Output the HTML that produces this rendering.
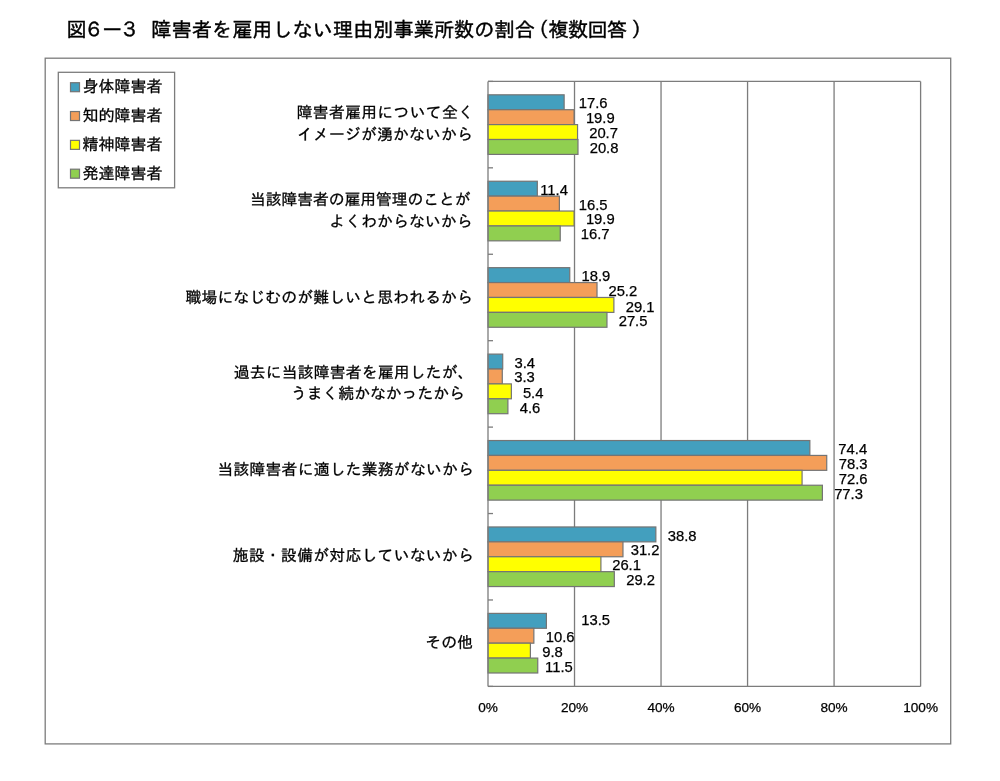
<!DOCTYPE html>
<html lang="ja"><head><meta charset="utf-8"><title>図6－3 障害者を雇用しない理由別事業所数の割合（複数回答）</title>
<style>html,body{margin:0;padding:0;background:#fff}svg{display:block}.jp{font-family:"Liberation Sans","IPAGothic","Noto Sans CJK JP",sans-serif;fill:#000;stroke:#000;stroke-width:0.3px}.num{font-family:"Liberation Sans",sans-serif;fill:#000;stroke:#000;stroke-width:0.25px;font-size:14.8px}</style></head><body>
<svg width="1000" height="781" viewBox="0 0 1000 781">
<rect width="1000" height="781" fill="#fff"/>
<text class="jp" style="stroke-width:0.42px" font-size="20.2"><tspan x="66.40" y="36.80">図</tspan><tspan x="83.80" y="37.30">６</tspan><tspan x="100.50" y="37.40" textLength="23.4" lengthAdjust="spacingAndGlyphs">－</tspan><tspan x="119.50" y="37.30">３</tspan><tspan x="151.30" y="36.90">障害者を雇用しない理由別事業所数の割合</tspan><tspan x="528.40" y="36.90">（</tspan><tspan x="548.40" y="36.90" textLength="78.8" lengthAdjust="spacing">複数回答</tspan><tspan x="631.40" y="36.90">）</tspan></text>
<rect x="45.2" y="58.2" width="905.5" height="685.7" fill="#fff" stroke="#7c7c7c" stroke-width="1.3"/>
<line x1="574.52" y1="81.40" x2="574.52" y2="686.40" stroke="#7c7c7c" stroke-width="1.3"/>
<line x1="661.04" y1="81.40" x2="661.04" y2="686.40" stroke="#7c7c7c" stroke-width="1.3"/>
<line x1="747.56" y1="81.40" x2="747.56" y2="686.40" stroke="#7c7c7c" stroke-width="1.3"/>
<line x1="834.08" y1="81.40" x2="834.08" y2="686.40" stroke="#7c7c7c" stroke-width="1.3"/>
<line x1="920.60" y1="81.40" x2="920.60" y2="686.40" stroke="#7c7c7c" stroke-width="1.3"/>
<line x1="488.00" y1="81.40" x2="920.60" y2="81.40" stroke="#7c7c7c" stroke-width="1.3"/>
<line x1="488.00" y1="686.40" x2="920.60" y2="686.40" stroke="#7c7c7c" stroke-width="1.3"/>
<rect x="488.00" y="94.81" width="76.14" height="14.90" fill="#439FBE" stroke="#747474" stroke-width="1.2"/>
<rect x="488.00" y="109.71" width="86.09" height="14.90" fill="#F49E59" stroke="#747474" stroke-width="1.2"/>
<rect x="488.00" y="124.61" width="89.55" height="14.90" fill="#FFFF00" stroke="#747474" stroke-width="1.2"/>
<rect x="488.00" y="139.51" width="89.98" height="14.90" fill="#90CF50" stroke="#747474" stroke-width="1.2"/>
<rect x="488.00" y="181.24" width="49.32" height="14.90" fill="#439FBE" stroke="#747474" stroke-width="1.2"/>
<rect x="488.00" y="196.14" width="71.38" height="14.90" fill="#F49E59" stroke="#747474" stroke-width="1.2"/>
<rect x="488.00" y="211.04" width="86.09" height="14.90" fill="#FFFF00" stroke="#747474" stroke-width="1.2"/>
<rect x="488.00" y="225.94" width="72.24" height="14.90" fill="#90CF50" stroke="#747474" stroke-width="1.2"/>
<rect x="488.00" y="267.67" width="81.76" height="14.90" fill="#439FBE" stroke="#747474" stroke-width="1.2"/>
<rect x="488.00" y="282.57" width="109.02" height="14.90" fill="#F49E59" stroke="#747474" stroke-width="1.2"/>
<rect x="488.00" y="297.47" width="125.89" height="14.90" fill="#FFFF00" stroke="#747474" stroke-width="1.2"/>
<rect x="488.00" y="312.37" width="118.97" height="14.90" fill="#90CF50" stroke="#747474" stroke-width="1.2"/>
<rect x="488.00" y="354.10" width="14.71" height="14.90" fill="#439FBE" stroke="#747474" stroke-width="1.2"/>
<rect x="488.00" y="369.00" width="14.28" height="14.90" fill="#F49E59" stroke="#747474" stroke-width="1.2"/>
<rect x="488.00" y="383.90" width="23.36" height="14.90" fill="#FFFF00" stroke="#747474" stroke-width="1.2"/>
<rect x="488.00" y="398.80" width="19.90" height="14.90" fill="#90CF50" stroke="#747474" stroke-width="1.2"/>
<rect x="488.00" y="440.53" width="321.85" height="14.90" fill="#439FBE" stroke="#747474" stroke-width="1.2"/>
<rect x="488.00" y="455.43" width="338.73" height="14.90" fill="#F49E59" stroke="#747474" stroke-width="1.2"/>
<rect x="488.00" y="470.33" width="314.07" height="14.90" fill="#FFFF00" stroke="#747474" stroke-width="1.2"/>
<rect x="488.00" y="485.23" width="334.40" height="14.90" fill="#90CF50" stroke="#747474" stroke-width="1.2"/>
<rect x="488.00" y="526.96" width="167.85" height="14.90" fill="#439FBE" stroke="#747474" stroke-width="1.2"/>
<rect x="488.00" y="541.86" width="134.97" height="14.90" fill="#F49E59" stroke="#747474" stroke-width="1.2"/>
<rect x="488.00" y="556.76" width="112.91" height="14.90" fill="#FFFF00" stroke="#747474" stroke-width="1.2"/>
<rect x="488.00" y="571.66" width="126.32" height="14.90" fill="#90CF50" stroke="#747474" stroke-width="1.2"/>
<rect x="488.00" y="613.39" width="58.40" height="14.90" fill="#439FBE" stroke="#747474" stroke-width="1.2"/>
<rect x="488.00" y="628.29" width="45.86" height="14.90" fill="#F49E59" stroke="#747474" stroke-width="1.2"/>
<rect x="488.00" y="643.19" width="42.39" height="14.90" fill="#FFFF00" stroke="#747474" stroke-width="1.2"/>
<rect x="488.00" y="658.09" width="49.75" height="14.90" fill="#90CF50" stroke="#747474" stroke-width="1.2"/>
<line x1="488.00" y1="81.40" x2="488.00" y2="686.40" stroke="#7c7c7c" stroke-width="1.3"/>
<line x1="488.00" y1="81.40" x2="493.00" y2="81.40" stroke="#7c7c7c" stroke-width="1.3"/>
<line x1="488.00" y1="167.83" x2="493.00" y2="167.83" stroke="#7c7c7c" stroke-width="1.3"/>
<line x1="488.00" y1="254.26" x2="493.00" y2="254.26" stroke="#7c7c7c" stroke-width="1.3"/>
<line x1="488.00" y1="340.69" x2="493.00" y2="340.69" stroke="#7c7c7c" stroke-width="1.3"/>
<line x1="488.00" y1="427.11" x2="493.00" y2="427.11" stroke="#7c7c7c" stroke-width="1.3"/>
<line x1="488.00" y1="513.54" x2="493.00" y2="513.54" stroke="#7c7c7c" stroke-width="1.3"/>
<line x1="488.00" y1="599.97" x2="493.00" y2="599.97" stroke="#7c7c7c" stroke-width="1.3"/>
<line x1="488.00" y1="686.40" x2="493.00" y2="686.40" stroke="#7c7c7c" stroke-width="1.3"/>
<text class="num" x="578.75" y="107.75">17.6</text>
<text class="num" x="585.88" y="123.00">19.9</text>
<text class="num" x="589.16" y="138.00">20.7</text>
<text class="num" x="589.66" y="153.25">20.8</text>
<text class="num" x="540.19" y="195.00">11.4</text>
<text class="num" x="578.75" y="209.50">16.5</text>
<text class="num" x="585.88" y="224.00">19.9</text>
<text class="num" x="580.75" y="239.00">16.7</text>
<text class="num" x="581.50" y="281.25">18.9</text>
<text class="num" x="608.41" y="296.25">25.2</text>
<text class="num" x="625.66" y="311.75">29.1</text>
<text class="num" x="618.66" y="325.50">27.5</text>
<text class="num" x="514.41" y="367.50">3.4</text>
<text class="num" x="514.21" y="382.25">3.3</text>
<text class="num" x="522.88" y="397.50">5.4</text>
<text class="num" x="519.67" y="412.50">4.6</text>
<text class="num" x="838.34" y="454.25">74.4</text>
<text class="num" x="838.77" y="468.75">78.3</text>
<text class="num" x="838.77" y="483.75">72.6</text>
<text class="num" x="834.15" y="498.50">77.3</text>
<text class="num" x="667.78" y="540.50">38.8</text>
<text class="num" x="630.66" y="555.25">31.2</text>
<text class="num" x="612.16" y="569.75">26.1</text>
<text class="num" x="626.16" y="585.00">29.2</text>
<text class="num" x="581.25" y="625.25">13.5</text>
<text class="num" x="545.75" y="641.75">10.6</text>
<text class="num" x="542.17" y="656.75">9.8</text>
<text class="num" x="545.12" y="671.75">11.5</text>
<text class="num" x="488.00" y="711.9" text-anchor="middle" style="font-size:13.6px">0%</text>
<text class="num" x="574.52" y="711.9" text-anchor="middle" style="font-size:13.6px">20%</text>
<text class="num" x="661.04" y="711.9" text-anchor="middle" style="font-size:13.6px">40%</text>
<text class="num" x="747.56" y="711.9" text-anchor="middle" style="font-size:13.6px">60%</text>
<text class="num" x="834.08" y="711.9" text-anchor="middle" style="font-size:13.6px">80%</text>
<text class="num" x="920.60" y="711.9" text-anchor="middle" style="font-size:13.6px">100%</text>
<text class="jp" font-size="15.8"><tspan x="296.66" y="118.10" textLength="177.18" lengthAdjust="spacing">障害者雇用について全く</tspan><tspan x="296.94" y="139.90" textLength="175.93" lengthAdjust="spacing">イメージが湧かないから</tspan></text>
<text class="jp" font-size="15.8"><tspan x="250.10" y="205.10" textLength="220.44" lengthAdjust="spacing">当該障害者の雇用管理のことが</tspan><tspan x="329.34" y="226.50" textLength="143.22" lengthAdjust="spacing">よくわからないから</tspan></text>
<text class="jp" font-size="15.8"><tspan x="185.43" y="302.70" textLength="287.47" lengthAdjust="spacing">職場になじむのが難しいと思われるから</tspan></text>
<text class="jp" font-size="15.8"><tspan x="233.70" y="378.45" textLength="239.82" lengthAdjust="spacing">過去に当該障害者を雇用したが、</tspan><tspan x="290.89" y="399.45" textLength="173.93" lengthAdjust="spacing">うまく続かなかったから</tspan></text>
<text class="jp" font-size="15.8"><tspan x="217.44" y="475.00" textLength="256.38" lengthAdjust="spacing">当該障害者に適した業務がないから</tspan></text>
<text class="jp" font-size="15.8"><tspan x="232.85" y="560.70" textLength="240.89" lengthAdjust="spacing">施設・設備が対応していないから</tspan></text>
<text class="jp" font-size="15.8"><tspan x="425.32" y="647.70" textLength="47.81" lengthAdjust="spacing">その他</tspan></text>
<rect x="58.3" y="72.3" width="116.3" height="115.5" fill="#fff" stroke="#7c7c7c" stroke-width="1.3"/>
<rect x="70.5" y="82.70" width="9" height="9" fill="#439FBE" stroke="#747474" stroke-width="1.2"/>
<text class="jp" x="82.4" y="91.88" font-size="16">身体障害者</text>
<rect x="70.5" y="111.53" width="9" height="9" fill="#F49E59" stroke="#747474" stroke-width="1.2"/>
<text class="jp" x="82.4" y="120.93" font-size="16">知的障害者</text>
<rect x="70.5" y="140.36" width="9" height="9" fill="#FFFF00" stroke="#747474" stroke-width="1.2"/>
<text class="jp" x="82.4" y="149.98" font-size="16">精神障害者</text>
<rect x="70.5" y="169.19" width="9" height="9" fill="#90CF50" stroke="#747474" stroke-width="1.2"/>
<text class="jp" x="82.4" y="179.03" font-size="16">発達障害者</text>
</svg></body></html>
